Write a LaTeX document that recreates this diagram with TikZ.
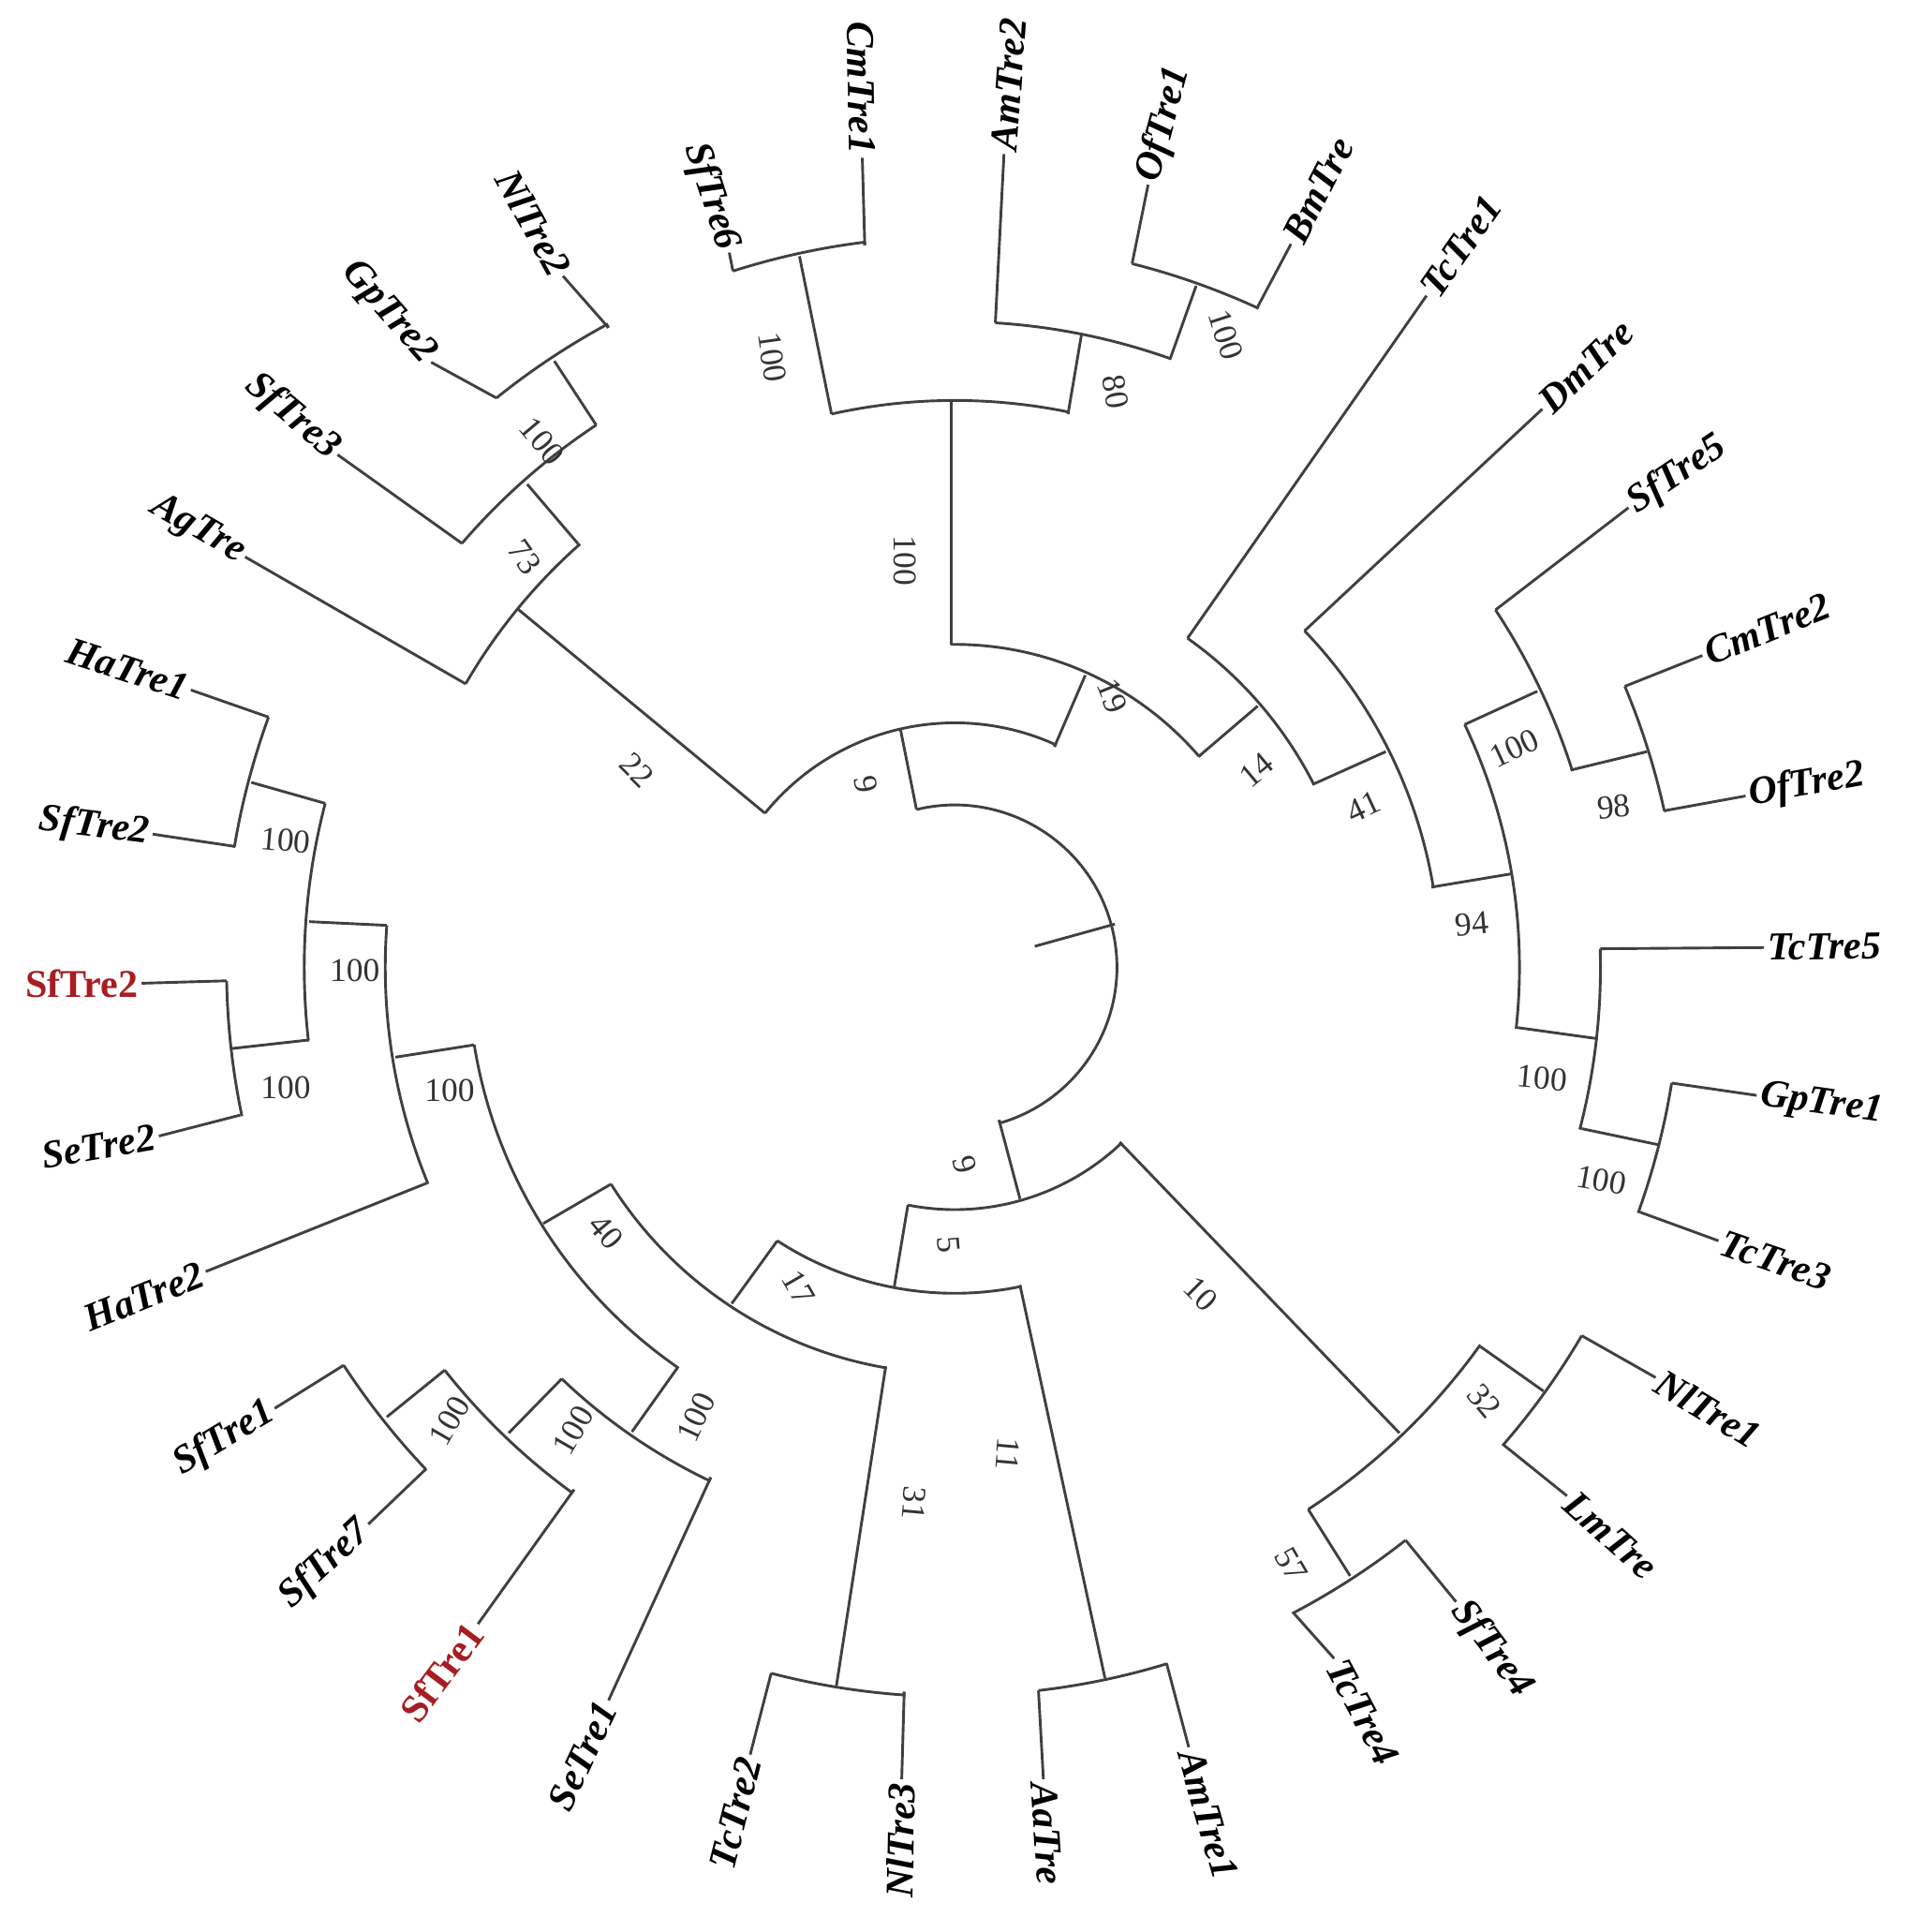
\documentclass[tikz,border=0pt]{standalone}
\usepackage{fontspec}
\setmainfont{Liberation Serif}
\usetikzlibrary{calc}
\definecolor{redlab}{RGB}{165,30,35}
\newcommand\tarc[2]{\draw[br] let \p1=($(#1)-(C)$),\p2=($(#2)-(C)$),\n1={atan2(\y1,\x1)},\n2={atan2(\y2,\x2)},\n3={veclen(\x1,\y1)},\n4={(\n2-\n1>180) ? (\n2-360) : ((\n2-\n1<-180) ? (\n2+360) : \n2)} in (#1) arc[start angle=\n1,end angle=\n4,radius=\n3] -- (#2);}
\begin{document}
\begin{tikzpicture}[x=1pt,y=-1pt,
  br/.style={line width=2.2pt,draw=black!75,line join=miter},
  lab/.style={font=\fontsize{32}{35}\selectfont\bfseries\itshape,inner sep=2pt},
  labr/.style={font=\fontsize{32}{35}\selectfont\bfseries,text=redlab,inner sep=2pt},
  bs/.style={font=\fontsize{27}{30}\selectfont,text=black!80,inner sep=0pt}]
\useasboundingbox (0,0) rectangle (1550,1568);
\coordinate (C) at (775,785);
% root
\coordinate (r0a) at (744,657); \coordinate (r0b) at (811,909);
\coordinate (r0s) at (905,750); \coordinate (r0i) at (840,768);
\tarc{r0a}{r0b}
\draw[br] (r0s) -- (r0i);
% top clade T
\coordinate (tN) at (731,592); \coordinate (tL) at (621,660); \coordinate (tR) at (856,606);
\draw[br] (r0a) -- (tN); \tarc{tL}{tR}
\coordinate (n22) at (420,494); \coordinate (a22) at (378,555); \coordinate (b22) at (469,441);
\draw[br] (tL) -- (n22); \tarc{a22}{b22}
\coordinate (n73) at (428,393); \coordinate (a73) at (375,441); \coordinate (b73) at (484,345);
\draw[br] (b22) -- (n73); \tarc{a73}{b73}
\coordinate (nG) at (450,293); \coordinate (aG) at (403,323); \coordinate (bG) at (494,266);
\draw[br] (b73) -- (nG); \tarc{aG}{bG}
\coordinate (nX) at (881,548); \coordinate (aX) at (772,523); \coordinate (bX) at (973,614);
\draw[br] (tR) -- (nX); \tarc{aX}{bX}
\coordinate (nZ) at (772,325); \coordinate (aZ) at (675,336); \coordinate (bZ) at (867,336);
\draw[br] (aX) -- (nZ); \tarc{aZ}{bZ}
\coordinate (nA1) at (649,208); \coordinate (aA1) at (595,220); \coordinate (bA1) at (702,199);
\draw[br] (aZ) -- (nA1); \tarc{aA1}{bA1}
\coordinate (nA2) at (878,271); \coordinate (aA2) at (808,262); \coordinate (bA2) at (950,291);
\draw[br] (bZ) -- (nA2); \tarc{aA2}{bA2}
\coordinate (nA3) at (971,232); \coordinate (aA3) at (919,214); \coordinate (bA3) at (1022,247);
\draw[br] (bA2) -- (nA3); \tarc{aA3}{bA3}
\coordinate (nY) at (1021,573); \coordinate (aY) at (964,518); \coordinate (bY) at (1067,636);
\draw[br] (bX) -- (nY); \tarc{aY}{bY}
\coordinate (n41) at (1125,610); \coordinate (a41) at (1059,512); \coordinate (b41) at (1162,720);
\draw[br] (bY) -- (n41); \tarc{a41}{b41}
\coordinate (n94) at (1228,709); \coordinate (a94) at (1189,588); \coordinate (b94) at (1232,834);
\draw[br] (b41) -- (n94); \tarc{a94}{b94}
\coordinate (nS5) at (1248,561); \coordinate (aS5) at (1214,495); \coordinate (bS5) at (1275,625);
\draw[br] (a94) -- (nS5); \tarc{aS5}{bS5}
\coordinate (n98) at (1337,610); \coordinate (a98) at (1319,557); \coordinate (b98) at (1351,658);
\draw[br] (bS5) -- (n98); \tarc{a98}{b98}
\coordinate (nT5) at (1297,843); \coordinate (aT5) at (1299,770); \coordinate (bT5) at (1284,916);
\draw[br] (b94) -- (nT5); \tarc{aT5}{bT5}
\coordinate (nG1) at (1346,929); \coordinate (aG1) at (1357,879); \coordinate (bG1) at (1332,984);
\draw[br] (bT5) -- (nG1); \tarc{aG1}{bG1}
% bottom clade B
\coordinate (nB) at (828,973); \coordinate (aB) at (737,978); \coordinate (bB) at (909,927);
\draw[br] (r0b) -- (nB); \tarc{aB}{bB}
\coordinate (n10) at (1136,1163); \coordinate (a10) at (1062,1225); \coordinate (b10) at (1202,1093);
\draw[br] (bB) -- (n10); \tarc{a10}{b10}
\coordinate (n32) at (1253,1129); \coordinate (a32) at (1284,1084); \coordinate (b32) at (1221,1173);
\draw[br] (b10) -- (n32); \tarc{a32}{b32}
\coordinate (n57) at (1096,1279); \coordinate (a57) at (1141,1250); \coordinate (b57) at (1050,1309);
\draw[br] (a10) -- (n57); \tarc{a57}{b57}
\coordinate (n5) at (726,1044); \coordinate (a5) at (631,1007); \coordinate (b5) at (828,1043);
\draw[br] (aB) -- (n5); \tarc{a5}{b5}
\coordinate (n11) at (897,1362); \coordinate (a11) at (843,1372); \coordinate (b11) at (947,1350);
\draw[br] (b5) -- (n11); \tarc{a11}{b11}
\coordinate (n17) at (594,1058); \coordinate (a17) at (496,961); \coordinate (b17) at (719,1109);
\draw[br] (a5) -- (n17); \tarc{a17}{b17}
\coordinate (n31) at (679,1368); \coordinate (a31) at (626,1358); \coordinate (b31) at (734,1373);
\draw[br] (b17) -- (n31); \tarc{a31}{b31}
\coordinate (n40) at (441,993); \coordinate (a40) at (385,848); \coordinate (b40) at (550,1110);
\draw[br] (a17) -- (n40); \tarc{a40}{b40}
\coordinate (nSe) at (513,1162); \coordinate (aSe) at (456,1119); \coordinate (bSe) at (577,1199);
\draw[br] (b40) -- (nSe); \tarc{aSe}{bSe}
\coordinate (nSr) at (413,1163); \coordinate (aSr) at (361,1112); \coordinate (bSr) at (466,1209);
\draw[br] (aSe) -- (nSr); \tarc{aSr}{bSr}
\coordinate (nS7) at (314,1150); \coordinate (aS7) at (279,1108); \coordinate (bS7) at (346,1192);
\draw[br] (aSr) -- (nS7); \tarc{aS7}{bS7}
\coordinate (nH2) at (321,858); \coordinate (aH2) at (314,751); \coordinate (bH2) at (347,960);
\draw[br] (a40) -- (nH2); \tarc{aH2}{bH2}
\coordinate (nH) at (251,748); \coordinate (aH) at (264,652); \coordinate (bH) at (251,844);
\draw[br] (aH2) -- (nH); \tarc{aH}{bH}
\coordinate (nR2) at (188,851); \coordinate (aR2) at (184,796); \coordinate (bR2) at (195,905);
\draw[br] (bH) -- (nR2); \tarc{aR2}{bR2}
\coordinate (nH1) at (204,635); \coordinate (aH1) at (218,582); \coordinate (bH1) at (191,687);
\draw[br] (aH) -- (nH1); \tarc{aH1}{bH1}
% leaves: right side (anchor west), left side (anchor east)
\foreach \a/\t/\r/\n in {
  aA2/{(815,125)}/86/AmTre2, aA3/{(932,150)}/75/OfTre1, bA3/{(1048,198)}/63/BmTre,
  aY/{(1158,240)}/55/TcTre1, a41/{(1252,332)}/44/DmTre, aS5/{(1322,412)}/34/SfTre5,
  a98/{(1382,532)}/22/CmTre2, b98/{(1417,646)}/10/OfTre2, aT5/{(1432,769)}/1/TcTre5,
  aG1/{(1426,889)}/-8/GpTre1, bG1/{(1395,1007)}/-19/TcTre3, a32/{(1344,1118)}/-31/NlTre1,
  b32/{(1272,1214)}/-42/LmTre, a57/{(1182,1300)}/-53/SfTre4, b57/{(1083,1346)}/-62/TcTre4,
  b11/{(965,1418)}/-74/AmTre1, a11/{(847,1444)}/-86/AaTre}
{ \draw[br] (\a) -- \t node[lab,anchor=west,rotate=\r] (L\n) {\n}; }
\foreach \a/\t/\r/\n in {
  aA1/{(592,205)}/-72/SfTre6, bA1/{(700,128)}/-89/CmTre1,
  b31/{(732,1444)}/89/NlTre3, a31/{(609,1424)}/76/TcTre2, bSe/{(494,1380)}/65/SeTre1,
  bS7/{(299,1237)}/43/SfTre7, aS7/{(223,1143)}/31/SfTre1,
  bH2/{(167,1032)}/22/HaTre2, bR2/{(129,922)}/10/SeTre2,
  bH1/{(124,677)}/-7/SfTre2, aH1/{(155,560)}/-18/HaTre1, a22/{(199,452)}/-30/AgTre,
  a73/{(274,369)}/-40/SfTre3, aG/{(350,294)}/-49/GpTre2, bG/{(457,224)}/-61/NlTre2}
{ \draw[br] (\a) -- \t node[lab,anchor=east,rotate=\r] (L\n) {\n}; }
\draw[br] (bSr) -- (388,1318) node[labr,anchor=east,rotate=53] (LSfTre1r) {SfTre1};
\draw[br] (aR2) -- (115,798) node[labr,anchor=east,rotate=0] (LSfTre2r) {SfTre2};
% bootstrap values
\foreach \p/\r/\v/\k in {
  {(735,455)}/-90/100/1, {(627,290)}/-82/100/2, {(906,318)}/-80/80/3, {(995,272)}/-72/100/4,
  {(903,565)}/-68/19/5, {(703,637)}/-80/9/6, {(517,625)}/-45/22/7, {(426,452)}/-55/73/8,
  {(440,358)}/-50/100/9, {(1020,625)}/40/14/10, {(1107,655)}/25/41/11, {(1195,750)}/5/94/12,
  {(1229,607)}/25/100/13, {(1310,655)}/5/98/14, {(1252,875)}/-5/100/15, {(1300,958)}/-10/100/16,
  {(975,1050)}/-45/10/17, {(1205,1137)}/-50/32/18, {(1048,1270)}/-60/57/19, {(783,945)}/-75/9/20,
  {(770,1010)}/-85/5/21, {(648,1045)}/-60/17/22, {(492,1000)}/-50/40/23, {(818,1180)}/-95/11/24,
  {(742,1220)}/-95/31/25, {(565,1150)}/65/100/26, {(465,1161)}/60/100/27, {(365,1153)}/60/100/28,
  {(365,885)}/0/100/29, {(288,788)}/0/100/30, {(232,883)}/0/100/31, {(232,682)}/-5/100/32}
{ \node[bs,rotate=\r] (bs\k) at \p {\v}; }
\end{tikzpicture}
\end{document}
